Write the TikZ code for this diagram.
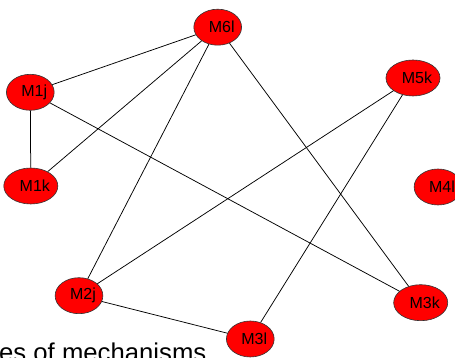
\documentclass[tikz,border=0pt]{standalone}
\usepackage{fontspec}
\setmainfont{Liberation Sans}
\usetikzlibrary{shapes.geometric}
\tikzset{
  mech/.style={ellipse, draw=black!80, line width=0.6pt, fill=red, minimum width=40.5pt, minimum height=36pt, inner sep=0pt, font=\fontsize{16}{16}\selectfont},
  link/.style={draw=black, line width=0.75pt}
}
\newcommand{\lbl}[1]{\hspace*{8pt}#1}
\begin{document}
\begin{tikzpicture}[x=1pt,y=1pt]
\useasboundingbox (0,0) rectangle (455,358);
\clip (0,0) rectangle (455,358);
\fill[white] (0,0) rectangle (455,358);
\node[mech] (m6l) at (217.7,330.8) {\lbl{M6l}};
\node[mech] (m1j) at (30.3,265.7) {\lbl{M1j}};
\node[mech] (m5k) at (413,280) {\lbl{M5k}};
\node[mech] (m1k) at (30.8,172) {\lbl{M1k}};
\node[mech] (m4l) at (438,171) {\lbl{M4l}};
\node[mech] (m2j) at (79,62.3) {\lbl{M2j}};
\node[mech] (m3k) at (420.7,55.3) {\lbl{M3k}};
\node[mech] (m3l) at (250.3,19) {\lbl{M3l}};
\begin{scope}[on background layer/.try]
\end{scope}
\draw[link] (m1j) -- (m6l);
\draw[link] (m1j) -- (m1k);
\draw[link] (m1j) -- (m3k);
\draw[link] (m6l) -- (m1k);
\draw[link] (m6l) -- (m2j);
\draw[link] (m6l) -- (m3k);
\draw[link] (m5k) -- (m2j);
\draw[link] (m5k) -- (m3l);
\draw[link] (m2j) -- (m3l);
\node[anchor=base west, inner sep=0pt, font=\fontsize{25.7}{26}\selectfont] (cap) at (-1,-3.3) {es of mechanisms};
\end{tikzpicture}
\end{document}
